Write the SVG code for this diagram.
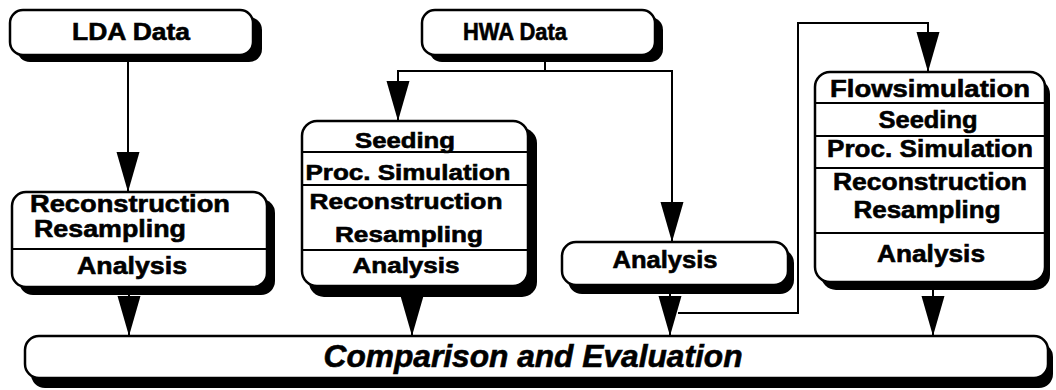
<svg xmlns="http://www.w3.org/2000/svg" width="1056" height="390" viewBox="0 0 1056 390">
<style>
.bg{fill:#fff}
.sh{fill:#000}
.box{fill:#fff;stroke:#000;stroke-width:2.5}
.dv{stroke:#000;stroke-width:2}
.t{font-family:"Liberation Sans",Arial,sans-serif;font-weight:bold;font-size:24px;text-anchor:middle;fill:#000;stroke:#000;stroke-width:0.6}
.tm{font-size:22px}
.ti{font-style:italic;font-size:31px}
.c{fill:none;stroke:#000;stroke-width:2}
</style>
<defs>
<marker id="ah" markerUnits="userSpaceOnUse" markerWidth="42" markerHeight="24" refX="40" refY="11.5" orient="auto">
<path d="M0,0 L40,11.5 L0,23 z" fill="#000"/>
</marker>
</defs>
<rect class="bg" x="0" y="0" width="1056" height="390"/>

<g id="connectors">
<path class="c" d="M128,62 V192" marker-end="url(#ah)"/>
<path class="c" d="M545,62 V71"/>
<path class="c" d="M545,71 H398 V121" marker-end="url(#ah)"/>
<path class="c" d="M545,71 H672 V242" marker-end="url(#ah)"/>
<path class="c" d="M678,313 H798 V23 H928 V72" marker-end="url(#ah)"/>
<path class="c" d="M129,294 V336" marker-end="url(#ah)"/>
<path class="c" d="M412,296 V336" marker-end="url(#ah)"/>
<path class="c" d="M670,294 V336" marker-end="url(#ah)"/>
<path class="c" d="M933,290 V336" marker-end="url(#ah)"/>
</g>

<g id="lda">
<rect class="sh" x="17" y="17" width="245" height="45" rx="13"/>
<rect class="box" x="10" y="10" width="243" height="45" rx="13"/>
<text class="t" x="131" y="40" font-size="25" textLength="118" lengthAdjust="spacingAndGlyphs">LDA Data</text>
</g>

<g id="hwa">
<rect class="sh" x="429" y="17" width="234" height="45" rx="13"/>
<rect class="box" x="422" y="10" width="233" height="45" rx="13"/>
<text class="t" x="515" y="40" font-size="25" textLength="104" lengthAdjust="spacingAndGlyphs">HWA Data</text>
</g>

<g id="lda-proc">
<rect class="sh" x="19" y="199" width="256" height="96" rx="14"/>
<rect class="box" x="12" y="192" width="255" height="95" rx="14"/>
<text class="t" x="130" y="212" textLength="200" lengthAdjust="spacingAndGlyphs">Reconstruction</text>
<text class="t" x="110" y="237" textLength="152" lengthAdjust="spacingAndGlyphs">Resampling</text>
<line class="dv" x1="12" y1="249" x2="267" y2="249"/>
<text class="t" x="132" y="274" textLength="110" lengthAdjust="spacingAndGlyphs">Analysis</text>
</g>

<g id="hwa-proc">
<rect class="sh" x="309" y="128" width="228" height="169" rx="15"/>
<rect class="box" x="302" y="121" width="226" height="165" rx="15"/>
<text class="t tm" x="405" y="148" textLength="100" lengthAdjust="spacingAndGlyphs">Seeding</text>
<line class="dv" x1="302" y1="152" x2="528" y2="152"/>
<text class="t tm" x="408" y="180" textLength="205" lengthAdjust="spacingAndGlyphs">Proc. Simulation</text>
<line class="dv" x1="302" y1="185" x2="528" y2="185"/>
<text class="t tm" x="406" y="209" textLength="193" lengthAdjust="spacingAndGlyphs">Reconstruction</text>
<text class="t tm" x="409" y="242" textLength="148" lengthAdjust="spacingAndGlyphs">Resampling</text>
<line class="dv" x1="302" y1="250" x2="528" y2="250"/>
<text class="t tm" x="406" y="273" textLength="107" lengthAdjust="spacingAndGlyphs">Analysis</text>
</g>

<g id="hwa-analysis">
<rect class="sh" x="568" y="249" width="226" height="45" rx="14"/>
<rect class="box" x="562" y="242" width="226" height="43" rx="14"/>
<text class="t" x="665" y="268" textLength="105" lengthAdjust="spacingAndGlyphs">Analysis</text>
</g>

<g id="sim-proc">
<rect class="sh" x="821" y="79" width="229" height="211" rx="15"/>
<rect class="box" x="815" y="72" width="230" height="210" rx="15"/>
<text class="t" x="930" y="97" textLength="200" lengthAdjust="spacingAndGlyphs">Flowsimulation</text>
<line class="dv" x1="815" y1="103" x2="1045" y2="103"/>
<text class="t" x="928" y="128" textLength="99" lengthAdjust="spacingAndGlyphs">Seeding</text>
<line class="dv" x1="815" y1="136" x2="1045" y2="136"/>
<text class="t" x="930" y="157" textLength="206" lengthAdjust="spacingAndGlyphs">Proc. Simulation</text>
<line class="dv" x1="815" y1="168" x2="1045" y2="168"/>
<text class="t" x="930" y="190" textLength="194" lengthAdjust="spacingAndGlyphs">Reconstruction</text>
<text class="t" x="927" y="218" textLength="147" lengthAdjust="spacingAndGlyphs">Resampling</text>
<line class="dv" x1="815" y1="233" x2="1045" y2="233"/>
<text class="t" x="931" y="262" textLength="108" lengthAdjust="spacingAndGlyphs">Analysis</text>
</g>

<g id="comparison">
<rect class="sh" x="31" y="343" width="1022" height="45" rx="14"/>
<rect class="box" x="25" y="336" width="1023" height="42" rx="14"/>
<text class="t ti" x="533" y="367" textLength="419" lengthAdjust="spacingAndGlyphs">Comparison and Evaluation</text>
</g>
</svg>
